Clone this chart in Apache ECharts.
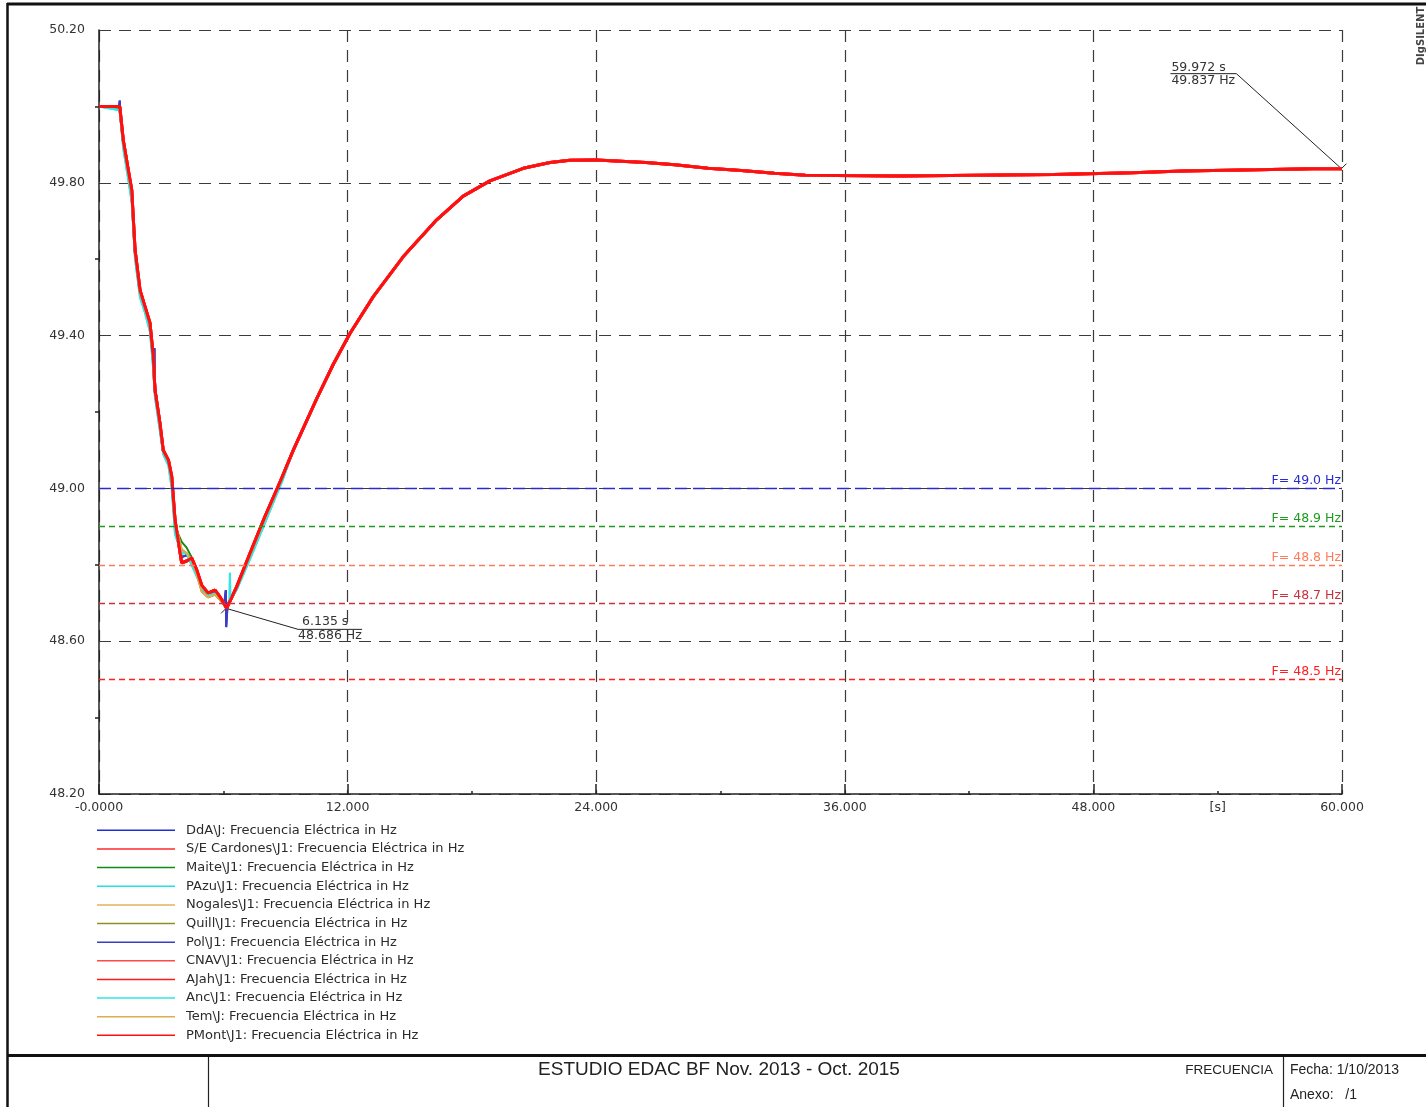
<!DOCTYPE html>
<html>
<head>
<meta charset="utf-8">
<script src="https://cdn.jsdelivr.net/npm/echarts@6/dist/echarts.min.js"></script>
<style>
  html, body { margin: 0; padding: 0; background: #fff; }
  #chart { width: 1426px; height: 1107px; }
</style>
</head>
<body>
<div id="chart"></div>
<script>
// tiempos [s] y frecuencias [Hz]
var tDrop = [0, 1.0, 1.17, 1.41, 1.58, 1.74, 1.98, 2.22, 2.46, 2.62, 2.70, 2.94, 3.10, 3.35, 3.51, 3.67, 3.99, 4.23, 4.47, 4.72, 4.96, 5.26, 5.60, 5.84, 6.16, 6.65, 7.29, 8.01, 8.58, 8.82];
var fRedDrop = [50.0, 50.0, 49.912, 49.834, 49.781, 49.624, 49.519, 49.476, 49.433, 49.345, 49.258, 49.171, 49.100, 49.074, 49.031, 48.917, 48.805, 48.810, 48.818, 48.786, 48.746, 48.726, 48.734, 48.716, 48.686, 48.743, 48.830, 48.926, 48.997, 49.027];
var fGreenDrop = [50.0, 49.995, 49.90, 49.82, 49.77, 49.61, 49.51, 49.47, 49.42, 49.33, 49.25, 49.16, 49.095, 49.07, 49.02, 48.90, 48.86, 48.845, 48.82, 48.78, 48.735, 48.72, 48.728, 48.712, 48.69, 48.738, 48.82, 48.915, 48.99, 49.02];
var fGoldDrop = [50.0, 49.998, 49.905, 49.828, 49.775, 49.618, 49.514, 49.472, 49.428, 49.338, 49.252, 49.165, 49.098, 49.072, 49.026, 48.91, 48.84, 48.83, 48.815, 48.775, 48.73, 48.715, 48.722, 48.708, 48.688, 48.74, 48.825, 48.92, 48.993, 49.024];

var tCyanDrop = [0, 1.0, 1.17, 1.41, 1.58, 1.74, 1.98, 2.22, 2.46, 2.62, 2.70, 2.94, 3.10, 3.35, 3.51, 3.67, 3.99, 4.23, 4.47, 4.72, 4.96, 5.26, 5.60, 5.84, 6.16, 6.30, 6.32, 6.34, 6.65, 7.29, 8.01, 8.58, 8.82];
var fCyanDrop = [50.0, 49.99, 49.89, 49.81, 49.75, 49.60, 49.50, 49.46, 49.41, 49.31, 49.24, 49.15, 49.09, 49.06, 49.00, 48.88, 48.83, 48.83, 48.80, 48.77, 48.74, 48.72, 48.725, 48.71, 48.69, 48.70, 48.779, 48.708, 48.735, 48.815, 48.91, 48.985, 49.015];

var tBlueDrop = [0, 0.97, 1.0, 1.03, 1.17, 1.41, 1.58, 1.74, 1.98, 2.22, 2.46, 2.62, 2.68, 2.69, 2.72, 2.94, 3.10, 3.35, 3.51, 3.67, 3.99, 4.23, 4.47, 4.72, 4.96, 5.26, 5.60, 5.84, 6.05, 6.12, 6.14, 6.20, 6.24, 6.65, 7.29, 8.01, 8.58, 8.82];
var fBlueDrop = [50.0, 50.0, 50.015, 49.985, 49.905, 49.83, 49.775, 49.62, 49.515, 49.472, 49.43, 49.34, 49.367, 49.29, 49.26, 49.168, 49.098, 49.072, 49.028, 48.912, 48.82, 48.825, 48.818, 48.782, 48.742, 48.722, 48.73, 48.714, 48.70, 48.734, 48.637, 48.69, 48.70, 48.742, 48.828, 48.924, 48.995, 49.025];

// recuperacion, comun a todas las barras
var tRise = [9.38, 10.51, 11.31, 12.12, 13.24, 14.69, 16.3, 17.58, 18.87, 20.48, 21.77, 22.73, 24.0, 26.4, 27.8, 29.4, 31.0, 32.6, 34.1, 38.6, 46.1, 49.9, 52.3, 55.9, 58.6, 60.0];
var fRise = [49.100, 49.235, 49.325, 49.406, 49.502, 49.607, 49.703, 49.765, 49.805, 49.838, 49.853, 49.859, 49.860, 49.853, 49.847, 49.838, 49.832, 49.825, 49.820, 49.818, 49.822, 49.826, 49.831, 49.834, 49.837, 49.837];

var seriesNames = [
  'DdA\\J: Frecuencia Eléctrica in Hz',
  'S/E Cardones\\J1: Frecuencia Eléctrica in Hz',
  'Maite\\J1: Frecuencia Eléctrica in Hz',
  'PAzu\\J1: Frecuencia Eléctrica in Hz',
  'Nogales\\J1: Frecuencia Eléctrica in Hz',
  'Quill\\J1: Frecuencia Eléctrica in Hz',
  'Pol\\J1: Frecuencia Eléctrica in Hz',
  'CNAV\\J1: Frecuencia Eléctrica in Hz',
  'AJah\\J1: Frecuencia Eléctrica in Hz',
  'Anc\\J1: Frecuencia Eléctrica in Hz',
  'Tem\\J: Frecuencia Eléctrica in Hz',
  'PMont\\J1: Frecuencia Eléctrica in Hz'
];
var seriesColors = ['#1f2fd8', '#ff2a2a', '#138a13', '#22e2e2', '#e2b35a', '#8f8f26', '#3c3cc4', '#ff4a4a', '#ff1a1a', '#30e6e6', '#dcae4e', '#ff1010'];
var seriesTrace = ['blue', 'red', 'green', 'cyan', 'gold', 'gold', 'blue', 'red', 'red', 'cyan', 'gold', 'red'];

var thrValues = [49.0, 48.9, 48.8, 48.7, 48.5];
var thrLabels = ['F= 49.0 Hz', 'F= 48.9 Hz', 'F= 48.8 Hz', 'F= 48.7 Hz', 'F= 48.5 Hz'];
var thrColors = ['#2a2ad0', '#1e9a1e', '#ff7c58', '#c8323f', '#ff2020'];

var markers = [[6.135, 48.686], [59.972, 49.837]];
var markerTexts = [['6.135 s', '48.686 Hz'], ['59.972 s', '49.837 Hz']];

function pairs(t, f) {
  return t.map(function (v, i) { return [v, f[i]]; });
}
var traces = {
  red: pairs(tDrop, fRedDrop).concat(pairs(tRise, fRise)),
  green: pairs(tDrop, fGreenDrop).concat(pairs(tRise, fRise)),
  gold: pairs(tDrop, fGoldDrop).concat(pairs(tRise, fRise)),
  cyan: pairs(tCyanDrop, fCyanDrop).concat(pairs(tRise, fRise)),
  blue: pairs(tBlueDrop, fBlueDrop).concat(pairs(tRise, fRise))
};

var chart = echarts.init(document.getElementById('chart'));
var font = 'DejaVu Sans';

var series = seriesNames.map(function (name, i) {
  var tr = seriesTrace[i];
  var s = {
    name: name,
    type: 'line',
    data: traces[tr],
    showSymbol: false,
    symbol: 'none',
    color: seriesColors[i],
    lineStyle: { width: tr === 'red' ? 3 : 2 },
    animation: false,
    silent: true
  };
  if (i === 0) {
    s.markLine = {
      silent: true,
      symbol: ['none', 'none'],
      animation: false,
      data: thrValues.map(function (v, k) {
        return {
          yAxis: v,
          lineStyle: { color: thrColors[k], width: 1.4, opacity: 1, type: k === 0 ? [12, 6] : [6, 4] },
          label: {
            show: true,
            position: 'insideEndTop',
            formatter: thrLabels[k],
            color: thrColors[k],
            fontSize: 12.5,
            fontFamily: font,
            distance: 1
          }
        };
      })
    };
  }
  return s;
});

var option = {
  backgroundColor: '#fff',
  animation: false,
  textStyle: { fontFamily: font },
  grid: { left: 99, top: 30, right: 84, bottom: 313, containLabel: false },
  legend: {
    show: true,
    orient: 'vertical',
    left: 97,
    top: 821,
    padding: 0,
    itemGap: 0,
    itemWidth: 78,
    itemHeight: 1.5,
    icon: 'rect',
    selectedMode: false,
    data: seriesNames,
    textStyle: { fontSize: 13, color: '#2b2b2b', lineHeight: 18.64, padding: [0, 0, 0, 6], fontFamily: font }
  },
  xAxis: {
    type: 'value',
    min: 0,
    max: 60,
    interval: 12,
    axisLine: { show: true, lineStyle: { color: '#222', width: 1.5 } },
    axisTick: { show: true, inside: true, length: 10, lineStyle: { color: '#222', width: 1.5 } },
    minorTick: { show: true, splitNumber: 2, length: 3, lineStyle: { color: '#222', width: 1.5 } },
    axisLabel: {
      color: '#333',
      fontSize: 12.5,
      margin: 7,
      formatter: function (v) { return v === 0 ? '-0.0000' : v.toFixed(3); }
    },
    splitLine: { show: true, lineStyle: { color: '#3a3a3a', type: [12, 8], width: 1.2 } }
  },
  yAxis: {
    type: 'value',
    min: 48.2,
    max: 50.2,
    interval: 0.4,
    axisLine: { show: true, lineStyle: { color: '#222', width: 1.5 } },
    axisTick: { show: false },
    minorTick: { show: true, splitNumber: 2, length: 4, lineStyle: { color: '#222', width: 1.5 } },
    axisLabel: {
      color: '#333',
      fontSize: 12.5,
      margin: 14,
      formatter: function (v) { return v.toFixed(2); }
    },
    splitLine: { show: true, lineStyle: { color: '#3a3a3a', type: [12, 8], width: 1.2 } }
  },
  series: series
};

chart.setOption(option);

// anotaciones, marco y rotulo
var g = [];
function line(x1, y1, x2, y2, w, c) {
  g.push({ type: 'line', silent: true, shape: { x1: x1, y1: y1, x2: x2, y2: y2 }, style: { stroke: c || '#222', lineWidth: w || 1 } });
}
function text(s, x, y, size, fam, align, col) {
  g.push({ type: 'text', silent: true, style: { text: s, x: x, y: y, font: size + 'px ' + fam, fill: col || '#333', align: align || 'left', verticalAlign: 'middle' } });
}

var pA = chart.convertToPixel({ gridIndex: 0 }, markers[0]);
line(pA[0], pA[1], pA[0] + 72, pA[1] + 21, 1, '#222');
line(pA[0] + 72, pA[1] + 21, pA[0] + 136, pA[1] + 21, 1, '#222');
line(pA[0] - 5, pA[1] + 5, pA[0] + 2, pA[1] - 2, 1, '#222');
text(markerTexts[0][0], pA[0] + 76, pA[1] + 13, 12.5, font);
text(markerTexts[0][1], pA[0] + 72, pA[1] + 27, 12.5, font);

var pB = chart.convertToPixel({ gridIndex: 0 }, markers[1]);
line(pB[0], pB[1], pB[0] - 105, pB[1] - 95, 1, '#222');
line(pB[0] - 105, pB[1] - 95, pB[0] - 171, pB[1] - 95, 1, '#222');
line(pB[0], pB[1], pB[0] + 5, pB[1] - 5, 1, '#222');
text(markerTexts[1][0], pB[0] - 170, pB[1] - 101, 12.5, font);
text(markerTexts[1][1], pB[0] - 170, pB[1] - 88, 12.5, font);

var pS = chart.convertToPixel({ gridIndex: 0 }, [54, 48.2]);
text('[s]', pS[0], pS[1] + 14, 12.5, font, 'center');

// marco de la hoja
line(7, 4, 1426, 4, 3, '#111');
line(7.5, 3, 7.5, 1107, 2.5, '#111');
line(7, 1055.5, 1426, 1055.5, 3, '#111');
line(208.5, 1057, 208.5, 1107, 1.2, '#222');
line(1283.5, 1057, 1283.5, 1107, 1.2, '#222');
text('ESTUDIO EDAC BF Nov. 2013 - Oct. 2015', 719, 1070, 19, 'Liberation Sans', 'center', '#222');
text('FRECUENCIA', 1273, 1070, 13.5, 'Liberation Sans', 'right', '#222');
text('Fecha: 1/10/2013', 1290, 1070, 14, 'Liberation Sans', 'left', '#222');
text('Anexo:   /1', 1290, 1095, 14, 'Liberation Sans', 'left', '#222');
g.push({ type: 'text', silent: true, x: 1421, y: 36, rotation: Math.PI / 2,
  style: { text: 'DIgSILENT', font: 'bold 10px ' + font, fill: '#444', align: 'center', verticalAlign: 'middle' } });

chart.setOption({ graphic: g });

window.addEventListener('resize', function () { chart.resize(); });
</script>
</body>
</html>
